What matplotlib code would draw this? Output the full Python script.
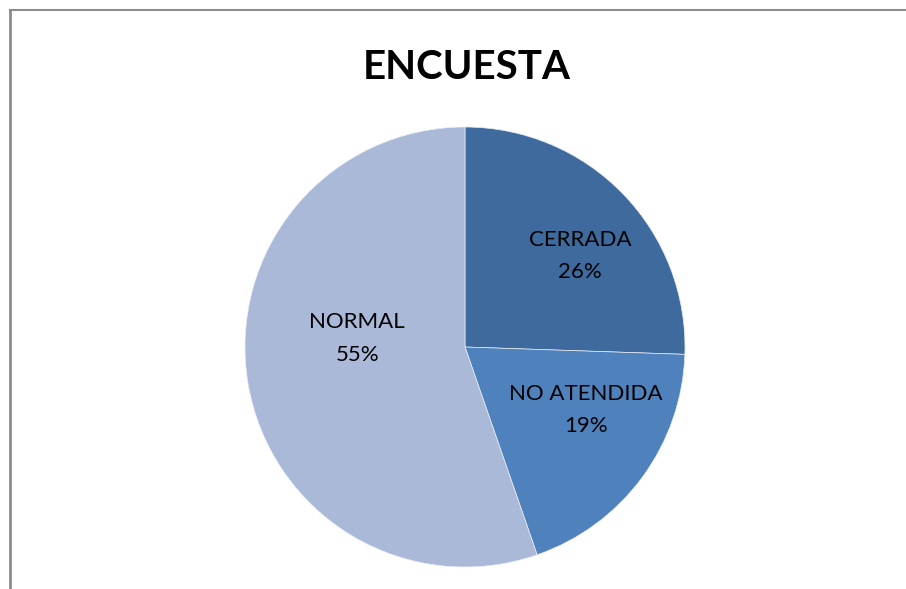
import matplotlib
matplotlib.use("Agg")
import matplotlib.pyplot as plt

categories = ["CERRADA", "NO ATENDIDA", "NORMAL"]
counts = [24, 18, 52]
colors = ["#3F6A9D", "#4F81BD", "#AAB9D7"]

plt.rcParams["font.family"] = ["Lato", "DejaVu Sans"]

W, H = 906, 589
fig = plt.figure(figsize=(W / 100, H / 100), dpi=100)

# chart frame (only top and left edges show in the crop)
fig.add_artist(plt.Line2D([10 / W, 1], [1 - 10 / H, 1 - 10 / H], color="#8C8C8C", lw=1.5))
fig.add_artist(plt.Line2D([10 / W, 10 / W], [0, 1 - 10 / H], color="#8C8C8C", lw=2))

cx, cy, r = 465, 347, 220
ax = fig.add_axes([(cx - r) / W, (H - cy - r) / H, 2 * r / W, 2 * r / H])

total = sum(counts)
wedges, texts, autotexts = ax.pie(
    counts, colors=colors, startangle=90, counterclock=False,
    autopct=lambda p: "", pctdistance=0.62, radius=1,
    wedgeprops=dict(linewidth=0.5, edgecolor="#E8EDF5"))
ax.set_xlim(-1, 1)
ax.set_ylim(-1, 1)
ax.set_aspect("equal")
ax.axis("off")

# label placement (Excel "best fit")
label_pos = [(0.523, 0.414), (0.55, -0.286), (-0.49, 0.039)]
for t, name, c, pos in zip(autotexts, categories, counts, label_pos):
    t.set_text(f"{name}\n{round(100 * c / total)}%")
    t.set_position(pos)
    t.set_fontsize(16)
    t.set_color("black")
    t.set_ha("center")
    t.set_va("center")
    t.set_linespacing(1.8)

fig.text(467 / W, 1 - 79 / H, "ENCUESTA", ha="center", va="baseline",
         fontsize=29, fontweight="bold")

fig.savefig("out.png", dpi=100)
